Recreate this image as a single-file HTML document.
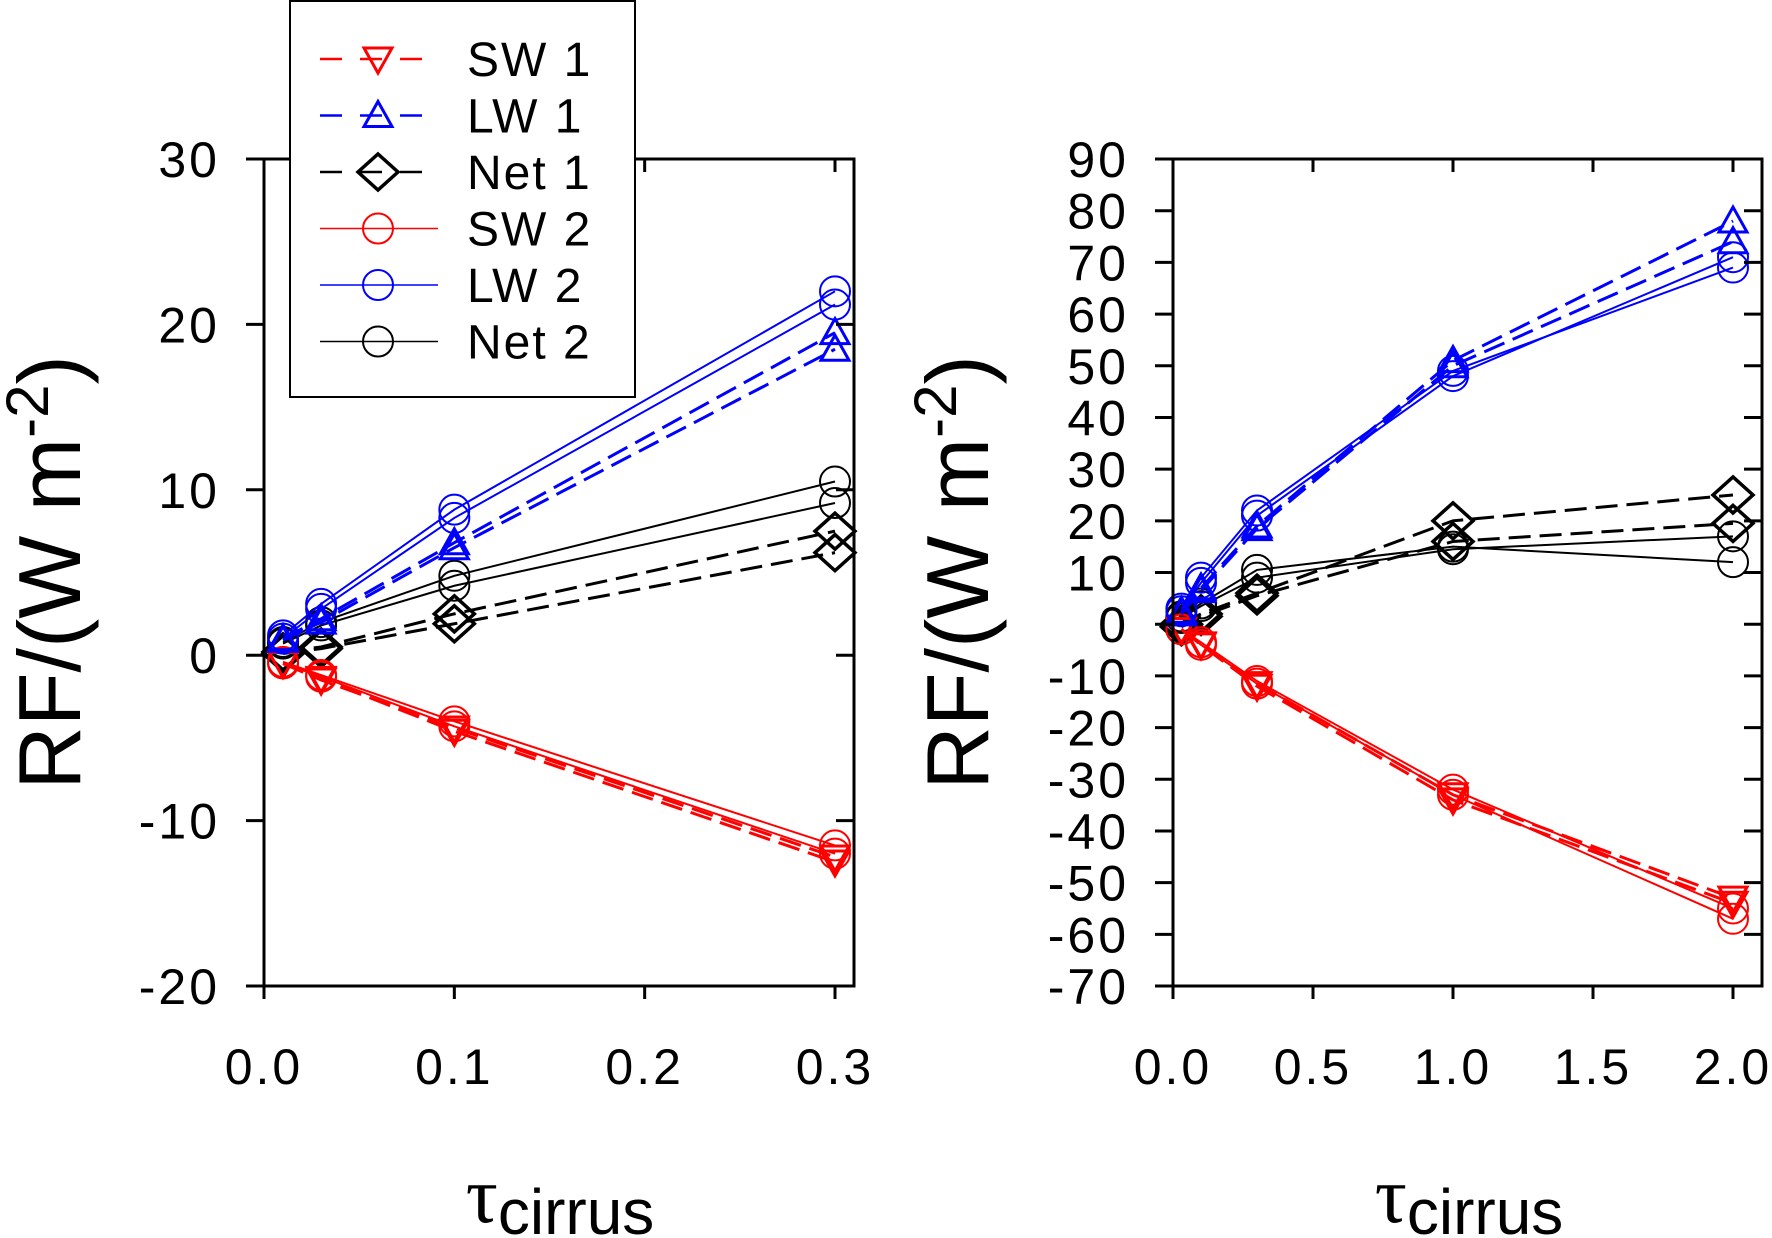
<!DOCTYPE html>
<html><head><meta charset="utf-8"><style>
html,body{margin:0;padding:0;background:#fff;}
svg{display:block;font-family:"Liberation Sans",Arial,sans-serif;}
</style></head><body>
<svg id="fig" width="1772" height="1238" viewBox="0 0 1772 1238" xmlns="http://www.w3.org/2000/svg"></svg>
<script>
// Left panel data
const leftX = [0.01, 0.03, 0.1, 0.3];
const leftSW1a = [-0.5, -1.4, -4.6, -12.5];
const leftSW1b = [-0.5, -1.5, -4.4, -12.2];
const leftLW1a = [1.0, 2.2, 6.8, 19.5];
const leftLW1b = [0.9, 2.0, 6.5, 18.5];
const leftNet1a = [0.2, 0.5, 2.5, 7.5];
const leftNet1b = [0.1, 0.4, 1.9, 6.2];
const leftSW2a = [-0.4, -1.2, -4.0, -11.5];
const leftSW2b = [-0.5, -1.3, -4.3, -12.0];
const leftLW2a = [1.2, 3.1, 8.8, 22.0];
const leftLW2b = [1.0, 2.8, 8.3, 21.2];
const leftNet2a = [0.8, 2.0, 4.8, 10.5];
const leftNet2b = [0.7, 1.8, 4.2, 9.2];
const leftXTicks = [0.0, 0.1, 0.2, 0.3];
const leftXTickLabels = ["0.0", "0.1", "0.2", "0.3"];
const leftYTicks = [-20, -10, 0, 10, 20, 30];
// Right panel data
const rightX = [0.03, 0.1, 0.3, 1.0, 2.0];
const rightSW1a = [-1, -4, -12, -34, -54];
const rightSW1b = [-1, -3.8, -11.5, -33, -53];
const rightLW1a = [2.5, 7, 19, 51, 78];
const rightLW1b = [2, 6.5, 18.5, 50, 74];
const rightNet1a = [0, 2, 6, 20, 25];
const rightNet1b = [-0.5, 1.5, 5.5, 16, 19.5];
const rightSW2a = [-1, -4, -11.5, -33, -57];
const rightSW2b = [-1, -3.5, -11, -32, -55];
const rightLW2a = [3, 9, 22, 49, 69];
const rightLW2b = [2.5, 8, 21, 48, 71];
const rightNet2a = [1.5, 4, 10.5, 15, 12];
const rightNet2b = [1.2, 3.5, 9, 14.5, 17];
const rightXTicks = [0, 0.5, 1.0, 1.5, 2.0];
const rightXTickLabels = ["0.0", "0.5", "1.0", "1.5", "2.0"];
const rightYTicks = [-70,-60,-50,-40,-30,-20,-10,0,10,20,30,40,50,60,70,80,90];

const NS = "http://www.w3.org/2000/svg";
const svg = document.getElementById('fig');
function mk(tag, attrs, parent) {
  const e = document.createElementNS(NS, tag);
  for (const k in attrs) e.setAttribute(k, attrs[k]);
  (parent || svg).appendChild(e);
  return e;
}
function marker(g, type, x, y, color) {
  let e;
  if (type === 'circle') e = mk('circle', {cx:x, cy:y, r:15, fill:'none', stroke:color, 'stroke-width':2}, g);
  else if (type === 'down') e = mk('polygon', {points:`${x-14},${y-11} ${x+14},${y-11} ${x},${y+14}`, fill:'none', stroke:color, 'stroke-width':3}, g);
  else if (type === 'up') e = mk('polygon', {points:`${x-14},${y+11} ${x+14},${y+11} ${x},${y-14}`, fill:'none', stroke:color, 'stroke-width':3}, g);
  else e = mk('polygon', {points:`${x},${y-18} ${x+20},${y} ${x},${y+18} ${x-20},${y}`, fill:'none', stroke:color, 'stroke-width':3.5}, g);
  
  
}
function panel(name, P, xs, seriesList, xt, xtl, yt) {
  const sx = v => P.x0 + (v - P.xmin) / (P.xmax - P.xmin) * (P.x1 - P.x0);
  const sy = v => P.y0 + (P.ymax - v) / (P.ymax - P.ymin) * (P.y1 - P.y0);
  const g = mk('g', {});
  
  
  seriesList.forEach(s => {
    s.data.forEach(arr => {
      const pts = xs.map((x, i) => sx(x) + ',' + sy(arr[i])).join(' ');
      const pl = mk('polyline', {points:pts, fill:'none', stroke:s.color, 'stroke-width': s.dash ? 3 : 2, 'stroke-dasharray': s.dash ? '22,9' : 'none'}, g);
      
      
      xs.forEach((x, i) => marker(g, s.m, sx(x), sy(arr[i]), s.color));
    });
  });
  const fr = mk('rect', {x:P.x0, y:P.y0, width:P.xr - P.x0, height:P.y1 - P.y0, fill:'none', stroke:'#000', 'stroke-width':3}, g);
  
  
  xt.forEach((v, i) => {
    const x = sx(v);
    mk('line', {x1:x, y1:P.y1, x2:x, y2:P.y1 + 13, stroke:'#000', 'stroke-width':3}, g);
    mk('line', {x1:x, y1:P.y0, x2:x, y2:P.y0 + 13, stroke:'#000', 'stroke-width':3}, g);
    const t = mk('text', {x:x, y:P.y1 + 98, 'font-size':50, 'text-anchor':'middle', 'letter-spacing':3}, g);
    t.textContent = xtl[i];
    
    
  });
  yt.forEach(v => {
    const y = sy(v);
    mk('line', {x1:P.x0 - 18, y1:y, x2:P.x0, y2:y, stroke:'#000', 'stroke-width':3}, g);
    mk('line', {x1:P.xr - 18, y1:y, x2:P.xr, y2:y, stroke:'#000', 'stroke-width':3}, g);
    const t = mk('text', {x:P.x0 - 44, y:y + 18, 'font-size':50, 'text-anchor':'end', 'letter-spacing':3}, g);
    t.textContent = String(v);
    
    
  });
  const yl = mk('text', {x:0, y:0, 'font-size':88, 'text-anchor':'middle', transform:`translate(${P.ylx},${(P.y0+P.y1)/2}) rotate(-90)`}, g);
  yl.innerHTML = 'RF/(W m<tspan dy="-32" font-size="60">-2</tspan><tspan dy="32">)</tspan>';
  
  
  const xl = mk('text', {x:P.xlx, y:1222, 'font-size':64, 'text-anchor':'middle'}, g);
  xl.innerHTML = '<tspan font-family="Liberation Serif" font-size="80">τ</tspan><tspan dy="12">cirrus</tspan>';
  
  
}
const R = '#ff0000', B = '#0000ff', K = '#000000';
panel('left-panel', {x0:264, x1:835, xr:854, xmin:0, xmax:0.3, y0:159, y1:986, ymin:-20, ymax:30, ylx:80, xlx:560},
  leftX, [
    {name:'net-2', color:K, m:'circle', dash:false, data:[leftNet2a, leftNet2b]},
    {name:'net-1', color:K, m:'diamond', dash:true, data:[leftNet1a, leftNet1b]},
    {name:'sw-1', color:R, m:'down', dash:true, data:[leftSW1a, leftSW1b]},
    {name:'sw-2', color:R, m:'circle', dash:false, data:[leftSW2a, leftSW2b]},
    {name:'lw-1', color:B, m:'up', dash:true, data:[leftLW1a, leftLW1b]},
    {name:'lw-2', color:B, m:'circle', dash:false, data:[leftLW2a, leftLW2b]},
  ], leftXTicks, leftXTickLabels, leftYTicks);
panel('right-panel', {x0:1173, x1:1733, xr:1762, xmin:0, xmax:2.0, y0:159, y1:986, ymin:-70, ymax:90, ylx:988, xlx:1469},
  rightX, [
    {name:'net-2', color:K, m:'circle', dash:false, data:[rightNet2a, rightNet2b]},
    {name:'net-1', color:K, m:'diamond', dash:true, data:[rightNet1a, rightNet1b]},
    {name:'sw-1', color:R, m:'down', dash:true, data:[rightSW1a, rightSW1b]},
    {name:'sw-2', color:R, m:'circle', dash:false, data:[rightSW2a, rightSW2b]},
    {name:'lw-1', color:B, m:'up', dash:true, data:[rightLW1a, rightLW1b]},
    {name:'lw-2', color:B, m:'circle', dash:false, data:[rightLW2a, rightLW2b]},
  ], rightXTicks, rightXTickLabels, rightYTicks);

const lg = mk('g', {});


mk('rect', {x:290, y:1, width:345, height:396, fill:'#fff', stroke:'#000', 'stroke-width':2}, lg);
const legendEntries = [
  ['SW 1', R, 'down', true], ['LW 1', B, 'up', true], ['Net 1', K, 'diamond', true],
  ['SW 2', R, 'circle', false], ['LW 2', B, 'circle', false], ['Net 2', K, 'circle', false]
];
legendEntries.forEach((e, i) => {
  const y = 59 + i * 56.5;
  const eg = mk('g', {}, lg);
  
  
  mk('line', {x1:320, y1:y, x2: e[3] ? 428 : 438, y2:y, stroke:e[1], 'stroke-width': e[3] ? 2.5 : 1.5, 'stroke-dasharray': e[3] ? '22,18' : 'none'}, eg);
  marker(eg, e[2], 378, y, e[1]);
  const t = mk('text', {x:467, y:y + 17, 'font-size':48, 'letter-spacing':2}, eg);
  t.textContent = e[0];
});
</script>
</body></html>
